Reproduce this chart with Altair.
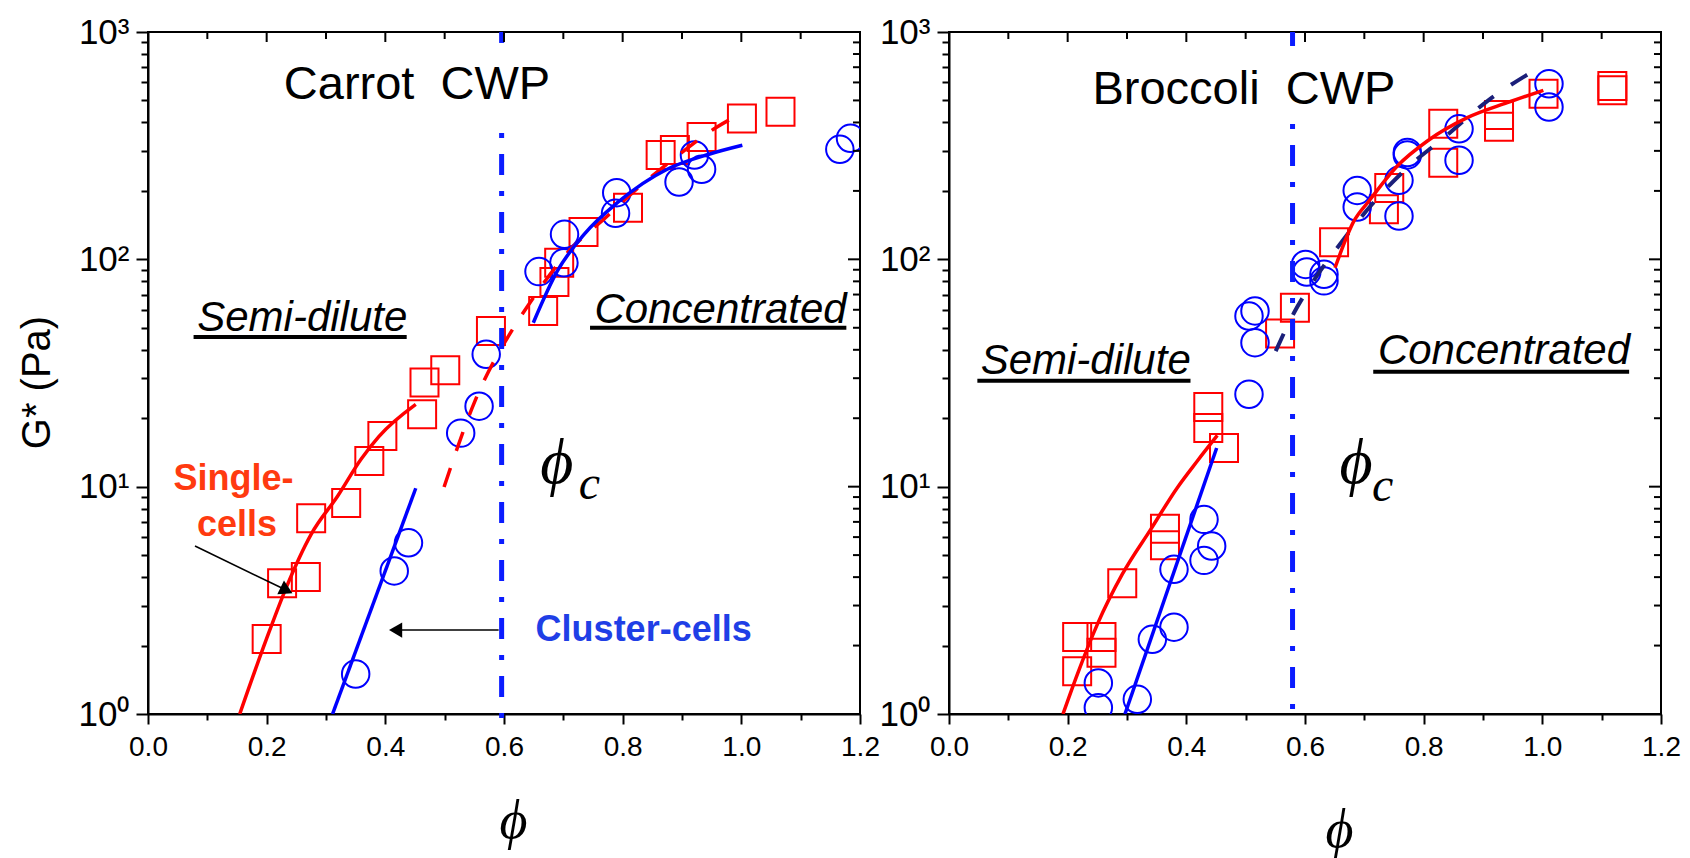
import altair as alt
import pandas as pd

# ---------------- fonts / colours ----------------
SANS = "Liberation Sans"
SERIF = "Liberation Serif"
RED = "#ff0000"
BLUE = "#0000ff"
NAVY = "#1b1f7a"
VLINE = "#0b1cff"
ORANGE = "#ff3a10"
CLUSTER = "#1f3fe6"

# ---------------- tick values ----------------
X_MAJOR = [0.0, 0.2, 0.4, 0.6, 0.8, 1.0, 1.2]
X_MINOR = [0.1, 0.3, 0.5, 0.7, 0.9, 1.1]
Y_MAJOR = [1, 10, 100, 1000]
Y_MINOR = [2, 3, 4, 5, 6, 7, 8, 9, 20, 30, 40, 50, 60, 70, 80, 90,
           200, 300, 400, 500, 600, 700, 800, 900]

# ---------------- Carrot CWP data ----------------
carrot_sq_phi = [0.200, 0.226, 0.266, 0.275, 0.334, 0.373, 0.395, 0.462, 0.466, 0.501, 0.578,
                 0.666, 0.685, 0.693, 0.734, 0.809, 0.864, 0.888, 0.933, 1.001, 1.066]
carrot_sq_G = [2.14, 3.76, 4.01, 7.26, 8.47, 12.97, 16.7, 20.8, 28.7, 32.5, 48.4,
               59.3, 79.4, 96.6, 131.9, 168.6, 287.8, 302.7, 345.0, 415.9, 445.8]
carrot_ci_phi = [0.350, 0.415, 0.439, 0.527, 0.558, 0.570, 0.659, 0.701, 0.702, 0.788, 0.790,
                 0.895, 0.921, 0.933, 1.166, 1.184]
carrot_ci_G = [1.50, 4.26, 5.66, 17.2, 22.6, 38.2, 88.3, 96.6, 128.8, 159.4, 196.5,
               218.8, 287.8, 249.0, 304.7, 340.6]

carrot_single_semi_phi = [0.1546, 0.1997, 0.2328, 0.2749, 0.320, 0.359, 0.389, 0.4513]
carrot_single_semi_G = [1.0, 2.14, 3.59, 6.17, 9.12, 13.2, 16.6, 23.0]
carrot_single_conc_phi = [0.499, 0.551, 0.618, 0.642, 0.7095, 0.771, 0.833, 0.892, 0.957, 0.999]
carrot_single_conc_G = [9.97, 23.8, 50.9, 63.4, 108.8, 152.4, 213.8, 284.8, 379.0, 437.0]
carrot_cluster_semi_phi = [0.311, 0.4513]
carrot_cluster_semi_G = [1.0, 9.84]
carrot_cluster_conc_phi = [0.6494, 0.690, 0.735, 0.791, 0.875, 0.9455, 1.0017]
carrot_cluster_conc_G = [52.6, 88.9, 128.8, 177.5, 249.0, 289.9, 317.4]
carrot_phi_c = 0.596

# ---------------- Broccoli CWP data ----------------
broc_sq_phi = [0.216, 0.216, 0.257, 0.257, 0.292, 0.364, 0.364, 0.437, 0.437, 0.4635, 0.558,
               0.583, 0.649, 0.733, 0.742, 0.833, 0.833, 0.927, 0.927, 1.002, 1.118, 1.118]
broc_sq_G = [1.54, 2.18, 2.18, 1.86, 3.76, 6.53, 5.52, 18.1, 22.4, 14.8, 47.2,
             61.2, 119.0, 166.0, 206.0, 395.0, 266.0, 383.0, 431.0, 535.0, 579.0, 554.0]
broc_ci_phi = [0.2517, 0.2517, 0.3174, 0.3427, 0.3792, 0.3792, 0.4298, 0.4298, 0.4427,
               0.5056, 0.5157, 0.5056, 0.5157, 0.601, 0.603, 0.632, 0.632, 0.688, 0.688,
               0.7584, 0.7584, 0.7725, 0.7725, 0.8596, 0.8596, 1.0112, 1.0112]
broc_ci_G = [1.37, 1.066, 1.16, 2.13, 2.41, 4.33, 7.18, 4.74, 5.48,
             25.5, 59.3, 56.3, 43.0, 95.0, 88.0, 85.9, 80.4, 201.0, 169.9,
             222.6, 155.0, 288.0, 295.0, 375.0, 272.7, 592.0, 467.7]

broc_single_semi_phi = [0.1921, 0.2163, 0.250, 0.2921, 0.340, 0.3848, 0.4185, 0.4522]
broc_single_semi_G = [1.0, 1.495, 2.48, 4.12, 6.49, 9.9, 12.97, 16.8]
broc_cluster_semi_phi = [0.2966, 0.4511]
broc_cluster_semi_G = [1.0, 14.8]
broc_single_conc_phi = [0.6506, 0.6826, 0.7079, 0.7556, 0.8062, 0.8736, 0.941, 1.0017]
broc_single_conc_G = [91.8, 147.5, 180.6, 257.4, 331.6, 419.8, 488.7, 554.0]
broc_cluster_conc_phi = [0.5506, 0.5815, 0.618, 0.663, 0.713, 0.7725, 0.8343, 0.9073, 0.983]
broc_cluster_conc_G = [39.5, 58.2, 83.0, 120.4, 174.6, 253.0, 342.8, 497.0, 669.0]
broc_phi_c = 0.579

# ---------------- annotation anchors (data coords) ----------------
carrot_texts = [("Carrot\u00a0 CWP", 0.4534, 505.8)]
broc_texts = [("Broccoli\u00a0 CWP", 0.497, 482.0)]

# ---------------- scales & axes ----------------
xscale = alt.Scale(domain=[0, 1.2], nice=False, zero=False)
yscale = alt.Scale(type="log", domain=[1, 1000], nice=False)

MAJOR_X_TEST = "abs(datum.value * 5 - round(datum.value * 5)) < 0.001"
MAJOR_Y_TEST = "indexof([1, 10, 100, 1000], datum.value) >= 0"
Y_LABELS = ("datum.value == 1 ? '10\u2070' : datum.value == 10 ? '10\u00b9' : "
            "datum.value == 100 ? '10\u00b2' : datum.value == 1000 ? '10\u00b3' : ''")


def x_axis(title_x, title_y):
    return alt.Axis(
        values=sorted(X_MAJOR + X_MINOR),
        labelExpr=f"{MAJOR_X_TEST} ? format(datum.value, '.1f') : ''",
        tickSize={"condition": {"test": MAJOR_X_TEST, "value": 10}, "value": 6},
        tickWidth=2, tickColor="black", domainColor="black", domainWidth=2, grid=False,
        labelFont=SANS, labelFontSize=28, labelColor="black", labelPadding=9,
        labelFlush=False, labelOverlap=False,
        title="\u03d5", titleFont=SERIF, titleFontStyle="italic", titleFontWeight="normal",
        titleFontSize=54, titleColor="black", titleX=title_x, titleY=title_y,
        titleAlign="center", titleBaseline="alphabetic",
    )


def y_axis(with_title):
    kw = dict(
        values=sorted(Y_MAJOR + Y_MINOR), labelExpr=Y_LABELS,
        tickSize={"condition": {"test": MAJOR_Y_TEST, "value": 12}, "value": 7},
        tickWidth=2, tickColor="black", domainColor="black", domainWidth=2, grid=False,
        labelFont=SANS, labelFontSize=35, labelColor="black", labelPadding=7,
        labelFlush=False, labelOverlap=False,
    )
    if with_title:
        kw.update(title="G* (Pa)", titleFont=SANS, titleFontSize=40, titleFontWeight="normal",
                  titleColor="black", titleX=-111, titleY=350, titleAngle=270,
                  titleAlign="center", titleBaseline="middle")
    else:
        kw.update(title=None)
    return alt.Axis(**kw)


def make_panel(p):
    X = alt.X("phi:Q", scale=xscale, axis=p["xaxis"])
    Y = alt.Y("G:Q", scale=yscale, axis=p["yaxis"])
    X2 = alt.X2("phi2:Q")
    Y2 = alt.Y2("G2:Q")

    def df(phi, G):
        return pd.DataFrame({"phi": phi, "G": G})

    layers = []
    # markers
    layers.append(alt.Chart(df(p["sq_phi"], p["sq_G"])).mark_point(
        shape="square", filled=False, size=784, strokeWidth=2, color=RED, opacity=1, clip=True
    ).encode(x=X, y=Y))
    layers.append(alt.Chart(df(p["ci_phi"], p["ci_G"])).mark_point(
        shape="circle", filled=False, size=755, strokeWidth=2, color=BLUE, opacity=1, clip=True
    ).encode(x=X, y=Y))
    # fitted curves
    for phi, G, color, dash, w in p["lines"]:
        kw = dict(color=color, strokeWidth=w, interpolate="monotone", clip=True)
        if dash:
            kw["strokeDash"] = dash
        layers.append(alt.Chart(df(phi, G)).mark_line(**kw).encode(x=X, y=Y))
    # critical concentration line (split where the title sits)
    pc = p["phi_c"]
    seg = pd.DataFrame({"phi": [pc, pc], "G": [1000, p["gap_lo"]], "G2": [p["gap_hi"], p["vbottom"]],
                        "part": ["top", "bottom"]})
    layers.append(alt.Chart(seg[seg.part == "top"]).mark_rule(
        color=VLINE, strokeWidth=5).encode(x=X, y=Y, y2=Y2))
    layers.append(alt.Chart(seg[seg.part == "bottom"]).mark_rule(
        color=VLINE, strokeWidth=5, strokeDash=[5, 16, 21, 16]).encode(x=X, y=Y, y2=Y2))
    # texts
    for label, phi, G, style in p["texts"]:
        t = pd.DataFrame({"phi": [phi], "G": [G], "label": [label]})
        layers.append(alt.Chart(t).mark_text(**style).encode(x=X, y=Y, text="label:N"))
    # underlines
    ul = pd.DataFrame(p["underlines"], columns=["phi", "phi2", "G"])
    layers.append(alt.Chart(ul).mark_rule(color="black", strokeWidth=4).encode(x=X, x2=X2, y=Y))
    # arrows
    for (a_phi, a_G, b_phi, b_G, shape, angle) in p["arrows"]:
        seg_a = pd.DataFrame({"phi": [a_phi], "G": [a_G], "phi2": [b_phi], "G2": [b_G]})
        layers.append(alt.Chart(seg_a).mark_rule(color="black", strokeWidth=1.6).encode(
            x=X, y=Y, x2=X2, y2=Y2))
        head = pd.DataFrame({"phi": [b_phi], "G": [b_G]})
        layers.append(alt.Chart(head).mark_point(
            shape=shape, angle=angle, filled=True, size=230, color="black", opacity=1, strokeWidth=0
        ).encode(x=X, y=Y))
    # mirrored inward ticks on top and right
    top = pd.DataFrame({"phi": X_MAJOR + X_MINOR, "G": [1000] * 13,
                        "len": [20] * 7 + [14] * 6})
    layers.append(alt.Chart(top).mark_tick(orient="vertical", clip=True, thickness=2, color="black",
                                           opacity=1).encode(
        x=X, y=Y, size=alt.Size("len:Q", scale=None)))
    right = pd.DataFrame({"phi": [1.2] * (len(Y_MAJOR) + len(Y_MINOR)), "G": Y_MAJOR + Y_MINOR,
                          "len": [24] * len(Y_MAJOR) + [14] * len(Y_MINOR)})
    layers.append(alt.Chart(right).mark_tick(orient="horizontal", clip=True, thickness=2, color="black",
                                             opacity=1).encode(
        x=X, y=Y, size=alt.Size("len:Q", scale=None)))

    return alt.layer(*layers).properties(width=712, height=682)


TITLE = dict(font=SANS, fontSize=47, align="center", baseline="alphabetic", color="black")
REGIME = dict(font=SANS, fontSize=42, fontStyle="italic", align="center", baseline="alphabetic",
              color="black")
PHI = dict(font=SERIF, fontSize=64, fontStyle="italic", align="center", baseline="alphabetic",
           color="black")
SUB = dict(font=SERIF, fontSize=48, fontStyle="italic", align="left", baseline="alphabetic",
           color="black")
SINGLE = dict(font=SANS, fontSize=36, fontWeight="bold", align="center", baseline="alphabetic",
              color=ORANGE)
CLUST = dict(font=SANS, fontSize=36, fontWeight="bold", align="center", baseline="alphabetic",
             color=CLUSTER)

left = make_panel(dict(
    xaxis=x_axis(365, 123), yaxis=y_axis(True),
    sq_phi=carrot_sq_phi, sq_G=carrot_sq_G, ci_phi=carrot_ci_phi, ci_G=carrot_ci_G,
    lines=[
        (carrot_single_semi_phi, carrot_single_semi_G, RED, None, 3.5),
        (carrot_single_conc_phi, carrot_single_conc_G, RED, [20, 18], 3.5),
        (carrot_cluster_semi_phi, carrot_cluster_semi_G, BLUE, None, 3.5),
        (carrot_cluster_conc_phi, carrot_cluster_conc_G, BLUE, None, 3.5),
    ],
    phi_c=carrot_phi_c, gap_lo=359.5, gap_hi=895.0, vbottom=0.9,
    texts=[
        (carrot_texts[0][0], carrot_texts[0][1], carrot_texts[0][2], TITLE),
        ("Semi-dilute", 0.260, 48.4, REGIME),
        ("Concentrated", 0.965, 52.6, REGIME),
        ("\u03d5", 0.689, 10.38, PHI),
        ("c", 0.726, 8.83, SUB),
        ("Single-", 0.144, 9.67, SINGLE),
        ("cells", 0.150, 6.07, SINGLE),
        ("Cluster-cells", 0.8354, 2.09, CLUST),
    ],
    underlines=[(0.0768, 0.436, 45.5), (0.745, 1.177, 50.0)],
    arrows=[
        (0.0792, 5.48, 0.2335, 3.50, "triangle-right", 26),
        (0.591, 2.34, 0.4173, 2.34, "triangle-left", 0),
    ],
))

right = make_panel(dict(
    xaxis=x_axis(390, 132), yaxis=y_axis(False),
    sq_phi=broc_sq_phi, sq_G=broc_sq_G, ci_phi=broc_ci_phi, ci_G=broc_ci_G,
    lines=[
        (broc_single_semi_phi, broc_single_semi_G, RED, None, 3.5),
        (broc_cluster_semi_phi, broc_cluster_semi_G, BLUE, None, 3.5),
        (broc_cluster_conc_phi, broc_cluster_conc_G, NAVY, [19, 21], 4),
        (broc_single_conc_phi, broc_single_conc_G, RED, None, 3.5),
    ],
    phi_c=broc_phi_c, gap_lo=393.6, gap_hi=868.0, vbottom=1.0,
    texts=[
        (broc_texts[0][0], broc_texts[0][1], broc_texts[0][2], TITLE),
        ("Semi-dilute", 0.2304, 31.2, REGIME),
        ("Concentrated", 0.9354, 34.5, REGIME),
        ("\u03d5", 0.686, 10.38, PHI),
        ("c", 0.713, 8.65, SUB),
    ],
    underlines=[(0.0478, 0.407, 29.2), (0.715, 1.1463, 32.0)],
    arrows=[],
))

chart = alt.hconcat(left, right, spacing=89, bounds="flush").properties(
    padding={"left": 16, "top": 14, "right": 5, "bottom": 5},
    background="white",
).configure_view(stroke="black", strokeWidth=2)

chart.save("out.html", embed_options={"renderer": "svg", "actions": False})
